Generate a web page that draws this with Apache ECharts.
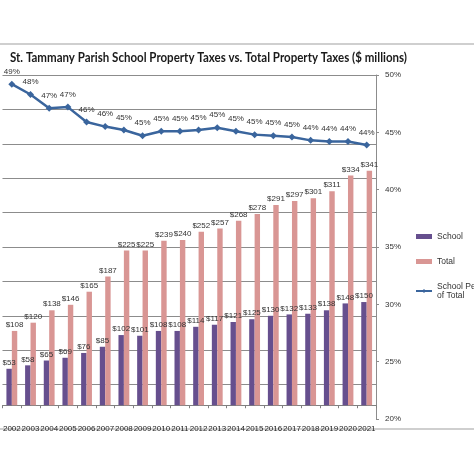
<!DOCTYPE html>
<html>
<head>
<meta charset="utf-8">
<script src="https://cdn.jsdelivr.net/npm/echarts@6/dist/echarts.min.js"></script>
<style>html,body{margin:0;padding:0;background:#fff;}#c{width:474px;height:474px;}</style>
</head>
<body>
<div id="c"></div>
<script>
const years = ['2002','2003','2004','2005','2006','2007','2008','2009','2010','2011','2012','2013','2014','2015','2016','2017','2018','2019','2020','2021'];
const school = [53,58,65,69,76,85,102,101,108,108,114,117,121,125,130,132,133,138,148,150];
const total = [108,120,138,146,165,187,225,225,239,240,252,257,268,278,291,297,301,311,334,341];
const schoolPct = [49.2,48.3,47.1,47.2,45.9,45.5,45.2,44.7,45.1,45.1,45.2,45.4,45.1,44.8,44.7,44.6,44.3,44.2,44.2,43.9];
const pctTicks = [20,25,30,35,40,45,50];
const titleText = 'St. Tammany Parish School Property Taxes vs. Total Property Taxes ($ millions)';

const FF = "'Liberation Sans',Arial,sans-serif";
const titleFont = "bold 14px Lato";
const cv = document.createElement('canvas').getContext('2d');
cv.font = titleFont;
const tw = cv.measureText(titleText).width || 397;
const titleScale = 397 / tw;

const chart = echarts.init(document.getElementById('c'), null, {renderer:'canvas'});
chart.setOption({
  animation:false,
  backgroundColor:'#fff',
  graphic:[
    {type:'line',shape:{x1:0,y1:44,x2:474,y2:44},style:{stroke:'#cfcfcf',lineWidth:2},silent:true},
    {type:'line',shape:{x1:0,y1:429,x2:474,y2:429},style:{stroke:'#cfcfcf',lineWidth:2},silent:true},
    {type:'text',x:10,y:50,scaleX:titleScale,scaleY:1,silent:true,
     style:{text:titleText,font:titleFont,fill:'#1a1a1a',textVerticalAlign:'top',textAlign:'left'}}
  ],
  legend:{
    orient:'vertical', left:410, top:227, itemWidth:16, itemHeight:5, itemGap:16,
    textStyle:{fontSize:8.5,color:'#333',fontFamily:FF},
    data:[{name:'School',icon:'rect'},{name:'Total',icon:'rect'},{name:'School Percent of Total'}],
    formatter:function(n){return n==='School Percent of Total'?'School Percent\nof Total':n;}
  },
  grid:{left:0,right:98,top:75,bottom:55,containLabel:false},
  xAxis:{
    type:'category', data:years,
    axisLine:{onZero:true,lineStyle:{color:'#808080'}},
    axisTick:{show:true,length:3,lineStyle:{color:'#808080'}},
    axisLabel:{interval:0,fontSize:8,color:'#222',margin:6,fontFamily:FF}
  },
  yAxis:[
    {type:'value',min:-20,max:480,interval:50,
     axisLabel:{show:false},axisLine:{show:false},axisTick:{show:false},
     splitLine:{show:true,showMinLine:false,lineStyle:{color:'#8c8c8c',width:1}}},
    {type:'value',position:'right',min:pctTicks[0],max:pctTicks[pctTicks.length-1],interval:5,
     axisLine:{show:true,lineStyle:{color:'#8c8c8c'}},
     axisTick:{show:true,length:3,lineStyle:{color:'#8c8c8c'}},
     axisLabel:{formatter:'{value}%',fontSize:8,color:'#333',margin:9,fontFamily:FF},
     splitLine:{show:false}}
  ],
  series:[
    {name:'School',type:'bar',data:school,yAxisIndex:0,barGap:'0%',barCategoryGap:'42%',
     itemStyle:{color:'#664f8e'},
     label:{show:true,position:'top',distance:2,fontSize:8,color:'#333',fontFamily:FF,formatter:p=>'$'+p.value}},
    {name:'Total',type:'bar',data:total,yAxisIndex:0,
     itemStyle:{color:'#d99694'},
     label:{show:true,position:'top',distance:2,fontSize:8,color:'#333',fontFamily:FF,formatter:p=>'$'+p.value}},
    {name:'School Percent of Total',type:'line',data:schoolPct,yAxisIndex:1,
     symbol:'diamond',symbolSize:7,
     lineStyle:{color:'#3a659d',width:2.5},itemStyle:{color:'#3a659d'},
     label:{show:true,position:'top',distance:5,fontSize:8,color:'#333',fontFamily:FF,formatter:p=>Math.round(p.value)+'%'}}
  ]
});
</script>
</body>
</html>
